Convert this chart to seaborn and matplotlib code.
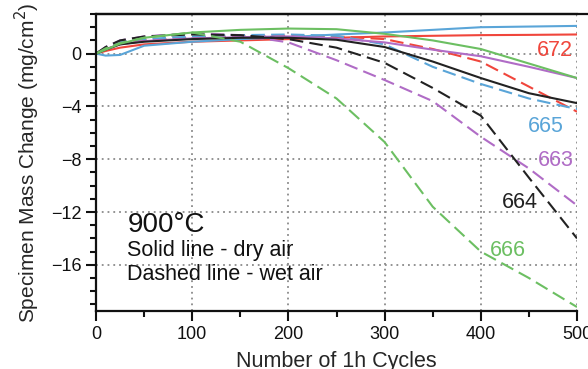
import numpy as np
import pandas as pd
import matplotlib
matplotlib.use("Agg")
import matplotlib.pyplot as plt
from matplotlib.lines import Line2D
from matplotlib.ticker import MultipleLocator
import seaborn as sns

# Cyclic oxidation at 900 °C: specimen mass change vs. number of 1 h cycles
cycles = [0, 10, 25, 50, 100, 150, 200, 250, 300, 350, 400, 450, 500]

alloys = ["672", "665", "663", "664", "666"]
colors = ["#f0463c", "#5aa5d8", "#b06cc6", "#222222", "#6cbf62"]

# dry air (solid lines)
dry_672 = [0, 0.2, 0.45, 0.7, 0.9, 1.0, 1.1, 1.2, 1.3, 1.35, 1.4, 1.42, 1.45]
dry_665 = [0, -0.15, -0.1, 0.6, 0.9, 1.1, 1.25, 1.45, 1.6, 1.8, 2.0, 2.05, 2.1]
dry_663 = [0, 0.35, 0.7, 0.95, 1.15, 1.25, 1.3, 1.15, 0.85, 0.3, -0.2, -1.0, -1.85]
dry_664 = [0, 0.3, 0.7, 0.9, 1.1, 1.2, 1.2, 1.05, 0.5, -0.6, -1.85, -3.0, -3.75]
dry_666 = [0, 0.3, 0.75, 1.2, 1.6, 1.8, 1.9, 1.85, 1.5, 1.0, 0.35, -0.75, -1.85]

# wet air (dashed lines)
wet_672 = [0, 0.4, 0.8, 1.0, 1.2, 1.3, 1.35, 1.3, 1.1, 0.35, -0.6, -2.5, -4.4]
wet_665 = [0, 0.4, 0.9, 1.1, 1.3, 1.4, 1.45, 1.35, 0.7, -1.0, -2.3, -3.4, -4.2]
wet_663 = [0, 0.5, 1.0, 1.3, 1.55, 1.4, 0.85, -0.5, -2.0, -3.6, -6.3, -8.7, -11.5]
wet_664 = [0, 0.5, 1.0, 1.3, 1.45, 1.4, 1.1, 0.45, -0.7, -2.6, -4.7, -9.4, -14.0]
wet_666 = [0, 0.4, 0.8, 1.2, 1.6, 0.9, -1.1, -3.4, -6.7, -11.6, -15.0, -17.0, -19.2]

dry = [dry_672, dry_665, dry_663, dry_664, dry_666]
wet = [wet_672, wet_665, wet_663, wet_664, wet_666]

rows = []
for name, d, w in zip(alloys, dry, wet):
    for c, v in zip(cycles, d):
        rows.append((c, v, name, "dry"))
    for c, v in zip(cycles, w):
        rows.append((c, v, name, "wet"))
df = pd.DataFrame(rows, columns=["cycles", "mass", "alloy", "air"])

sns.set_style("ticks")
plt.rcParams["font.family"] = ["Liberation Sans", "DejaVu Sans"]
plt.rcParams["axes.unicode_minus"] = True

fig = plt.figure(figsize=(5.88, 3.69), dpi=100)
ax = fig.add_axes([0.1633, 0.1572, 0.8180, 0.8048])

palette = dict(zip(alloys, colors))
sns.lineplot(data=df, x="cycles", y="mass", hue="alloy", style="air",
             palette=palette, dashes={"dry": "", "wet": (6.5, 3.0)},
             linewidth=1.5, legend=False, ax=ax, estimator=None, sort=False)

ax.set_xlim(0, 500)
ax.set_ylim(-19.5, 3)
ax.xaxis.set_major_locator(MultipleLocator(100))
ax.xaxis.set_minor_locator(MultipleLocator(50))
ax.yaxis.set_major_locator(MultipleLocator(4))
ax.yaxis.set_minor_locator(MultipleLocator(1))

ax.grid(True, which="major", color="#8a8a8a", linestyle=(0, (1, 2.2)), linewidth=1.3)
ax.set_axisbelow(True)

for side in ["left", "bottom", "top"]:
    ax.spines[side].set_linewidth(1.6)
    ax.spines[side].set_color("#111111")
ax.spines["right"].set_visible(False)

ax.tick_params(which="major", direction="out", length=7.5, width=1.5,
               labelsize=13, pad=3, colors="#111111")
ax.tick_params(which="minor", direction="out", length=4.5, width=1.5, colors="#111111")

ax.set_xlabel("Number of 1h Cycles", fontsize=15.5, labelpad=6)
ax.set_ylabel("Specimen Mass Change (mg/cm$^2$)", fontsize=15, labelpad=6)

# top frame line running out to the right edge
fig.add_artist(Line2D([0.1633, 1.0], [0.962, 0.962], transform=fig.transFigure,
                      color="#111111", linewidth=1.6))

# alloy labels
ax.text(496, -0.15, "672", color=colors[0], fontsize=15.5, ha="right", va="baseline")
ax.text(449, -5.97, "665", color=colors[1], fontsize=15.5, ha="left", va="baseline")
ax.text(459.5, -8.5, "663", color=colors[2], fontsize=15.5, ha="left", va="baseline")
ax.text(422, -11.72, "664", color=colors[3], fontsize=15.5, ha="left", va="baseline")
ax.text(409.6, -15.3, "666", color=colors[4], fontsize=15.5, ha="left", va="baseline")

ax.text(33, -13.5, "900°C", fontsize=20, ha="left", va="baseline", color="#111111")
ax.text(32, -15.34, "Solid line - dry air", fontsize=15.5, ha="left", va="baseline", color="#111111")
ax.text(32, -17.16, "Dashed line - wet air", fontsize=15.5, ha="left", va="baseline", color="#111111")

fig.savefig("out.png", dpi=100)
